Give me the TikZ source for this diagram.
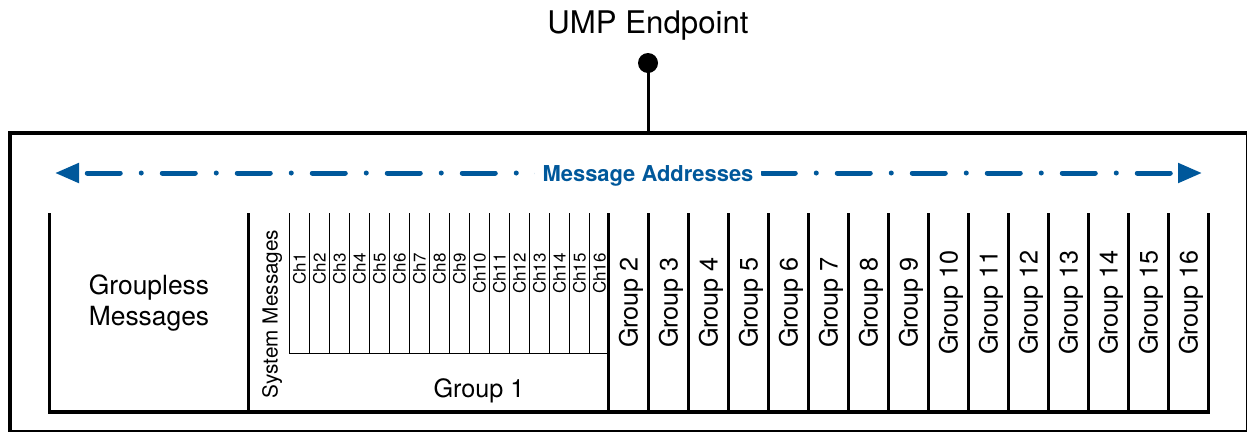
\documentclass[tikz,border=0pt]{standalone}
\usepackage{fontspec}
\setmainfont{TeX Gyre Heros}
\usetikzlibrary{arrows.meta}
\definecolor{umpblue}{HTML}{00589B}
\begin{document}
\begin{tikzpicture}[x=1bp,y=-1bp,
  thickline/.style={line width=3.4bp},
  thinline/.style={line width=1.6bp},
  grouplabel/.style={rotate=90,font=\fontsize{25.3}{25.3}\selectfont,inner sep=0pt,text depth=0pt},
  chlabel/.style={rotate=90,anchor=east,font=\fontsize{17}{17}\selectfont,inner sep=0pt,text depth=0pt},
  ]
\useasboundingbox (0,0) rectangle (1247,431);
% outer box (cropped at right and bottom)
\draw[line width=4bp] (9.5,133) rectangle (1247.5,432);
% endpoint
\node[font=\fontsize{31.3}{31.3}\selectfont,inner sep=0pt,text depth=0pt] (title) at (648,22.5) {UMP Endpoint};
\node[circle,fill=black,inner sep=0pt,minimum size=20bp] (dot) at (648,63) {};
\coordinate (boxtop) at (648,133);
\draw[line width=3bp] (dot.center) -- (boxtop);
% message addresses arrow
\coordinate (al) at (55,173);
\coordinate (ar) at (1202,173);
\draw[umpblue,line width=5bp,line cap=round,
  dash pattern=on 33bp off 21bp on 0bp off 21bp,dash phase=65.5bp,
  {Triangle[length=24bp,width=19bp]}-{Triangle[length=24bp,width=19bp]}] (al) -- (ar);
\node[fill=white,text=umpblue,font=\bfseries\fontsize{22}{22}\selectfont,inner xsep=8bp,inner ysep=2bp,text depth=0pt] (ma) at (648,174) {Message Addresses};
% frame of the address space
\draw[thickline,line join=miter] (49.5,213) -- (49.5,412) -- (1208.3,412) -- (1208.3,213);
\draw[thickline] (248.5,213) -- (248.5,412);
\foreach \k in {0,...,14}{
  \draw[thickline] ({608.3+40*\k},213) -- ({608.3+40*\k},412);
}
% channels of group 1
\draw[thinline] (289.3,213) -- (289.3,353.3) -- (608.3,353.3);
\foreach \k in {1,...,15}{
  \draw[thinline] ({289.3+20*\k},213) -- ({289.3+20*\k},353.3);
}
\foreach \k in {1,...,16}{
  \node[chlabel] (ch\k) at ({279.3+20*\k},253) {Ch\k};
}
% labels
\node[align=center,font=\fontsize{26.5}{32}\selectfont,inner sep=0pt] (groupless) at (149,303) {Groupless\\Messages};
\node[rotate=90,font=\fontsize{20.8}{20.8}\selectfont,inner sep=0pt,text depth=0pt] (sys) at (270,314) {System Messages};
\node[font=\fontsize{25.3}{25.3}\selectfont,inner sep=0pt,text depth=0pt] (g1) at (479,388) {Group 1};
\foreach \k in {2,...,16}{
  \node[grouplabel] (g\k) at ({628.3+40*(\k-2)},302.5) {Group \k};
}
\end{tikzpicture}
\end{document}
